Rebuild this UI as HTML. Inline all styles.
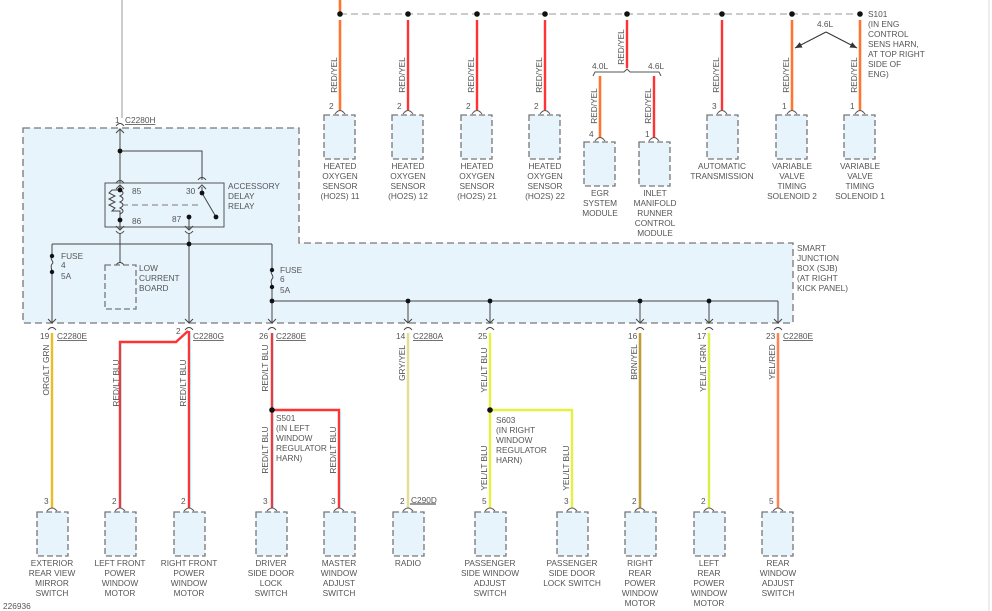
<!DOCTYPE html>
<html><head><meta charset="utf-8"><style>
html,body{margin:0;padding:0;background:#fff;}
svg{display:block;}
text{font-family:"Liberation Sans",sans-serif;font-size:8.3px;fill:#555;}
.u{text-decoration:underline;}
</style></head><body>
<svg width="992" height="611" viewBox="0 0 992 611" xmlns="http://www.w3.org/2000/svg">
<defs>
<marker id="ar" markerWidth="8" markerHeight="8" refX="7" refY="4" orient="auto" markerUnits="userSpaceOnUse"><path d="M0,1 L7,4 L0,7 z" fill="#333"/></marker>
</defs>
<line x1="989" y1="0" x2="989" y2="611" stroke="#ddd" stroke-width="1"/>
<path d="M23,128 H299 V243 H793 V323 H23 Z" fill="#e8f4fc" stroke="#777" stroke-width="1.3" stroke-dasharray="7,4"/>

<line x1="340" y1="14" x2="860" y2="14" stroke="#bbb" stroke-width="1.5" stroke-dasharray="7,4"/>
<line x1="340" y1="0" x2="340" y2="14" stroke="#f33" stroke-width="2.4"/><line x1="340" y1="0" x2="340" y2="14" stroke="#fd0" stroke-width="0.8"/>
<g>
<path d="M340,20 V110 M408,20 V110 M477,20 V110 M545,20 V110 M722,20 V110 M792,20 V110 M860,20 V110 M627,20 V68 M600,76 V138 M654,76 V138" stroke="#f33" stroke-width="2.4" fill="none"/>
<path d="M340,20 V110 M792,20 V110 M860,20 V110 M600,76 V138" stroke="#fd0" stroke-width="0.8" fill="none"/>
<path d="M593,76 L595,72 H624 L627,69 L630,72 H659 L661,76" stroke="#555" fill="none" stroke-width="1"/>
<text x="592" y="69">4.0L</text><text x="648" y="69">4.6L</text>
</g>
<g fill="#111"><circle cx="340" cy="14" r="2.8"/><circle cx="408" cy="14" r="2.8"/><circle cx="477" cy="14" r="2.8"/><circle cx="545" cy="14" r="2.8"/><circle cx="627" cy="14" r="2.8"/><circle cx="722" cy="14" r="2.8"/><circle cx="792" cy="14" r="2.8"/><circle cx="860" cy="14" r="2.8"/></g>
<line x1="826" y1="32" x2="795" y2="48" stroke="#333" marker-end="url(#ar)"/>
<line x1="826" y1="32" x2="857" y2="48" stroke="#333" marker-end="url(#ar)"/>
<text x="817" y="27">4.6L</text>
<text x="868" y="17">S101</text><text x="868" y="27">(IN ENG</text><text x="868" y="37">CONTROL</text><text x="868" y="47">SENS HARN,</text><text x="868" y="57">AT TOP RIGHT</text><text x="868" y="67">SIDE OF</text><text x="868" y="77">ENG)</text>

<g text-anchor="middle">
<text transform="translate(337,75) rotate(-90)">RED/YEL</text>
<text transform="translate(405,75) rotate(-90)">RED/YEL</text>
<text transform="translate(474,75) rotate(-90)">RED/YEL</text>
<text transform="translate(542,75) rotate(-90)">RED/YEL</text>
<text transform="translate(624,47) rotate(-90)">RED/YEL</text>
<text transform="translate(597,106) rotate(-90)">RED/YEL</text>
<text transform="translate(651,106) rotate(-90)">RED/YEL</text>
<text transform="translate(719,75) rotate(-90)">RED/YEL</text>
<text transform="translate(789,75) rotate(-90)">RED/YEL</text>
<text transform="translate(857,75) rotate(-90)">RED/YEL</text>
</g>

<g fill="#e8f4fc" stroke="#777" stroke-width="1.3" stroke-dasharray="6,3">
<rect x="324" y="115" width="31" height="44"/><rect x="392" y="115" width="31" height="44"/><rect x="461" y="115" width="31" height="44"/><rect x="529" y="115" width="31" height="44"/>
<rect x="584" y="142" width="31" height="44"/><rect x="639" y="142" width="31" height="44"/>
<rect x="707" y="115" width="31" height="44"/><rect x="776" y="115" width="31" height="44"/><rect x="844" y="115" width="31" height="44"/>
</g>
<g stroke="#555" fill="none">
<path d="M335,114 Q340,107 345,114 M403,114 Q408,107 413,114 M472,114 Q477,107 482,114 M540,114 Q545,107 550,114 M717,114 Q722,107 727,114 M787,114 Q792,107 797,114 M855,114 Q860,107 865,114 M595,141 Q600,134 605,141 M649,141 Q654,134 659,141"/>
</g>
<text x="329" y="109">2</text><text x="397" y="109">2</text><text x="466" y="109">2</text><text x="534" y="109">2</text><text x="589" y="137">4</text><text x="645" y="137">1</text><text x="712" y="109">3</text><text x="782" y="109">1</text><text x="850" y="109">1</text>
<g text-anchor="middle">
<text x="340" y="169">HEATED</text><text x="340" y="179">OXYGEN</text><text x="340" y="189">SENSOR</text><text x="340" y="199">(HO2S) 11</text>
<text x="408" y="169">HEATED</text><text x="408" y="179">OXYGEN</text><text x="408" y="189">SENSOR</text><text x="408" y="199">(HO2S) 12</text>
<text x="477" y="169">HEATED</text><text x="477" y="179">OXYGEN</text><text x="477" y="189">SENSOR</text><text x="477" y="199">(HO2S) 21</text>
<text x="545" y="169">HEATED</text><text x="545" y="179">OXYGEN</text><text x="545" y="189">SENSOR</text><text x="545" y="199">(HO2S) 22</text>
<text x="600" y="196">EGR</text><text x="600" y="206">SYSTEM</text><text x="600" y="216">MODULE</text>
<text x="655" y="196">INLET</text><text x="655" y="206">MANIFOLD</text><text x="655" y="216">RUNNER</text><text x="655" y="226">CONTROL</text><text x="655" y="236">MODULE</text>
<text x="722" y="169">AUTOMATIC</text><text x="722" y="179">TRANSMISSION</text>
<text x="792" y="169">VARIABLE</text><text x="792" y="179">VALVE</text><text x="792" y="189">TIMING</text><text x="792" y="199">SOLENOID 2</text>
<text x="860" y="169">VARIABLE</text><text x="860" y="179">VALVE</text><text x="860" y="189">TIMING</text><text x="860" y="199">SOLENOID 1</text>
</g>
<text x="797" y="251">SMART</text><text x="797" y="261">JUNCTION</text><text x="797" y="271">BOX (SJB)</text><text x="797" y="281">(AT RIGHT</text><text x="797" y="291">KICK PANEL)</text>

<line x1="122" y1="0" x2="122" y2="118" stroke="#ccc" stroke-width="2"/>
<text x="115" y="123">1</text><text x="125" y="123" class="u">C2280H</text>
<g stroke="#444" fill="none" stroke-width="1">
<path d="M116,126 Q120,121 124,126 M116,133 L120,129 L124,133"/>
<path d="M120,129 V183 M120,151 H202 V180"/>
<path d="M116,183 Q120,178 124,183 M198,180 Q202,175 206,180"/>
<rect x="105" y="183" width="119" height="44" stroke="#555"/>
<path d="M120,190 V186 M116,189 L120,185 L124,189 M202,193 V187 M198,189 L202,185 L206,189"/>
<path d="M120,190 c4,2 4,4 0,6 c4,2 4,4 0,6 c4,2 4,4 0,6 c4,2 4,4 0,6 M120,190 H112 l-3,3 l6,3 l-6,3 l6,3 l-6,3 l6,3 l-3,3 H120 V220"/>
<path d="M122,205 H200" stroke-dasharray="6,4" stroke="#777"/>
<path d="M202,193 L216,217"/>
<path d="M120,220 V230 M116,226 L120,230 L124,226 M189,217 V230 M185,226 L189,230 L193,226"/>
<path d="M116,231 Q120,236 124,231 M185,231 Q189,236 193,231"/>
<path d="M120,234 V262 M116,265 Q120,260 124,265"/>
<path d="M189,234 V323 M52,244 H272"/>
<path d="M52,244 V256 M52,272 V323 M52,256 c-3,3 3,6 0,8 c-2,2 0,6 0,8"/>
<path d="M272,244 V270 M272,287 V323 M272,270 c-3,3 3,6 0,9 c-2,2 0,6 0,8"/>
<path d="M272,301 H778 M408,301 V323 M490,301 V323 M640,301 V323 M709,301 V323 M778,301 V323"/>
<path d="M48,319 L52,323 L56,319 M185,319 L189,323 L193,319 M268,319 L272,323 L276,319 M404,319 L408,323 L412,319 M486,319 L490,323 L494,319 M636,319 L640,323 L644,319 M705,319 L709,323 L713,319 M774,319 L778,323 L782,319"/>
<path d="M48,330 Q52,325 56,330 M185,330 Q189,325 193,330 M268,330 Q272,325 276,330 M404,330 Q408,325 412,330 M486,330 Q490,325 494,330 M636,330 Q640,325 644,330 M705,330 Q709,325 713,330 M774,330 Q778,325 782,330"/>
</g>
<rect x="105" y="265" width="31" height="44" fill="none" stroke="#777" stroke-width="1.3" stroke-dasharray="6,3"/>
<g fill="#111">
<circle cx="120" cy="151" r="2.4"/><circle cx="120" cy="190" r="2.4"/><circle cx="120" cy="220" r="2.4"/><circle cx="202" cy="193" r="2.4"/><circle cx="216" cy="217" r="2.4"/><circle cx="189" cy="217" r="2.4"/><circle cx="189" cy="244" r="2.4"/>
<circle cx="52" cy="256" r="2.2"/><circle cx="52" cy="272" r="2.2"/><circle cx="272" cy="270" r="2.2"/><circle cx="272" cy="287" r="2.2"/><circle cx="272" cy="301" r="2.4"/>
<circle cx="408" cy="301" r="2.4"/><circle cx="490" cy="301" r="2.4"/><circle cx="640" cy="301" r="2.4"/><circle cx="709" cy="301" r="2.4"/>
</g>
<text x="132" y="194">85</text><text x="132" y="224">86</text><text x="186" y="194">30</text><text x="172" y="222">87</text>
<text x="228" y="189">ACCESSORY</text><text x="228" y="199">DELAY</text><text x="228" y="209">RELAY</text>
<text x="139" y="271">LOW</text><text x="139" y="281">CURRENT</text><text x="139" y="291">BOARD</text>
<text x="61" y="259">FUSE</text><text x="61" y="268">4</text><text x="61" y="279">5A</text>
<text x="280" y="273">FUSE</text><text x="280" y="282">6</text><text x="280" y="293">5A</text>

<text x="40" y="339">19</text><text x="57" y="339" class="u">C2280E</text>
<text x="176" y="334">2</text><text x="193" y="339" class="u">C2280G</text>
<text x="259" y="339">26</text><text x="276" y="339" class="u">C2280E</text>
<text x="396" y="339">14</text><text x="413" y="339" class="u">C2280A</text>
<text x="478" y="339">25</text>
<text x="628" y="339">16</text>
<text x="697" y="339">17</text>
<text x="766" y="339">23</text><text x="783" y="339" class="u">C2280E</text>

<g fill="none" stroke-width="2.4">
<path d="M52,333 V508" stroke="#e6c000"/>
<path d="M188,331 L176,342 H120 V508 M189,331 V508" stroke="#f33"/>
<path d="M272,333 V508 M272,410 H339 V508" stroke="#f33"/>
<path d="M408,333 V508" stroke="#d9d29a"/>
<path d="M490,333 V508 M490,410 H572 V508" stroke="#e5f040"/>
<path d="M640,333 V508" stroke="#a07a10"/>
<path d="M709,333 V508" stroke="#c8ec30"/>
<path d="M778,333 V508" stroke="#f55"/>
</g>
<g fill="none" stroke-width="0.8">
<path d="M52,333 V508" stroke="#f8b070"/>
<path d="M121.5,343.5 V508 M190.5,333 V508 M273.5,333 V508 M340.5,411.5 V508" stroke="#9ef"/>
<path d="M408,333 V508" stroke="#f5f080"/>
<path d="M640,333 V508" stroke="#f0d050"/>
<path d="M709,333 V508" stroke="#f8f060"/>
<path d="M778,333 V508" stroke="#fc3"/>
</g>
<circle cx="272" cy="410" r="2.8" fill="#111"/><circle cx="490" cy="410" r="2.8" fill="#111"/>
<text x="276" y="421">S501</text><text x="276" y="431">(IN LEFT</text><text x="276" y="441">WINDOW</text><text x="276" y="451">REGULATOR</text><text x="276" y="461">HARN)</text>
<text x="496" y="423">S603</text><text x="496" y="433">(IN RIGHT</text><text x="496" y="443">WINDOW</text><text x="496" y="453">REGULATOR</text><text x="496" y="463">HARN)</text>
<g text-anchor="middle">
<text transform="translate(49,370) rotate(-90)">ORG/LT GRN</text>
<text transform="translate(119,383) rotate(-90)">RED/LT BLU</text>
<text transform="translate(186,383) rotate(-90)">RED/LT BLU</text>
<text transform="translate(268,368) rotate(-90)">RED/LT BLU</text>
<text transform="translate(268,450) rotate(-90)">RED/LT BLU</text>
<text transform="translate(336,450) rotate(-90)">RED/LT BLU</text>
<text transform="translate(405,363) rotate(-90)">GRY/YEL</text>
<text transform="translate(487,370) rotate(-90)">YEL/LT BLU</text>
<text transform="translate(487,468) rotate(-90)">YEL/LT BLU</text>
<text transform="translate(569,468) rotate(-90)">YEL/LT BLU</text>
<text transform="translate(637,362) rotate(-90)">BRN/YEL</text>
<text transform="translate(706,368) rotate(-90)">YEL/LT GRN</text>
<text transform="translate(775,362) rotate(-90)">YEL/RED</text>
</g>

<g fill="#e8f4fc" stroke="#777" stroke-width="1.3" stroke-dasharray="6,3">
<rect x="37" y="512" width="31" height="44"/><rect x="105" y="512" width="31" height="44"/><rect x="174" y="512" width="31" height="44"/><rect x="256" y="512" width="31" height="44"/><rect x="324" y="512" width="31" height="44"/>
<rect x="393" y="512" width="31" height="44"/><rect x="475" y="512" width="31" height="44"/><rect x="557" y="512" width="31" height="44"/><rect x="625" y="512" width="31" height="44"/><rect x="694" y="512" width="31" height="44"/><rect x="762" y="512" width="31" height="44"/>
</g>
<g stroke="#555" fill="none">
<path d="M47,511 Q52,505 57,511 M115,511 Q120,505 125,511 M184,511 Q189,505 194,511 M267,511 Q272,505 277,511 M334,511 Q339,505 344,511 M403,511 Q408,505 413,511 M485,511 Q490,505 495,511 M567,511 Q572,505 577,511 M635,511 Q640,505 645,511 M704,511 Q709,505 714,511 M773,511 Q778,505 783,511"/>
<path d="M410,504 H436" stroke="#333"/>
</g>
<text x="44" y="504">3</text><text x="112" y="504">2</text><text x="181" y="504">2</text><text x="263" y="504">3</text><text x="331" y="504">3</text><text x="400" y="504">2</text><text x="411" y="503">C290D</text><text x="482" y="504">5</text><text x="564" y="504">3</text><text x="632" y="504">2</text><text x="701" y="504">2</text><text x="769" y="504">5</text>
<g text-anchor="middle">
<text x="52" y="566">EXTERIOR</text><text x="52" y="576">REAR VIEW</text><text x="52" y="586">MIRROR</text><text x="52" y="596">SWITCH</text>
<text x="120" y="566">LEFT FRONT</text><text x="120" y="576">POWER</text><text x="120" y="586">WINDOW</text><text x="120" y="596">MOTOR</text>
<text x="189" y="566">RIGHT FRONT</text><text x="189" y="576">POWER</text><text x="189" y="586">WINDOW</text><text x="189" y="596">MOTOR</text>
<text x="271" y="566">DRIVER</text><text x="271" y="576">SIDE DOOR</text><text x="271" y="586">LOCK</text><text x="271" y="596">SWITCH</text>
<text x="339" y="566">MASTER</text><text x="339" y="576">WINDOW</text><text x="339" y="586">ADJUST</text><text x="339" y="596">SWITCH</text>
<text x="408" y="566">RADIO</text>
<text x="490" y="566">PASSENGER</text><text x="490" y="576">SIDE WINDOW</text><text x="490" y="586">ADJUST</text><text x="490" y="596">SWITCH</text>
<text x="572" y="566">PASSENGER</text><text x="572" y="576">SIDE DOOR</text><text x="572" y="586">LOCK SWITCH</text>
<text x="640" y="566">RIGHT</text><text x="640" y="576">REAR</text><text x="640" y="586">POWER</text><text x="640" y="596">WINDOW</text><text x="640" y="606">MOTOR</text>
<text x="709" y="566">LEFT</text><text x="709" y="576">REAR</text><text x="709" y="586">POWER</text><text x="709" y="596">WINDOW</text><text x="709" y="606">MOTOR</text>
<text x="778" y="566">REAR</text><text x="778" y="576">WINDOW</text><text x="778" y="586">ADJUST</text><text x="778" y="596">SWITCH</text>
</g>
<text x="3" y="609">226936</text>
</svg>
</body></html>
